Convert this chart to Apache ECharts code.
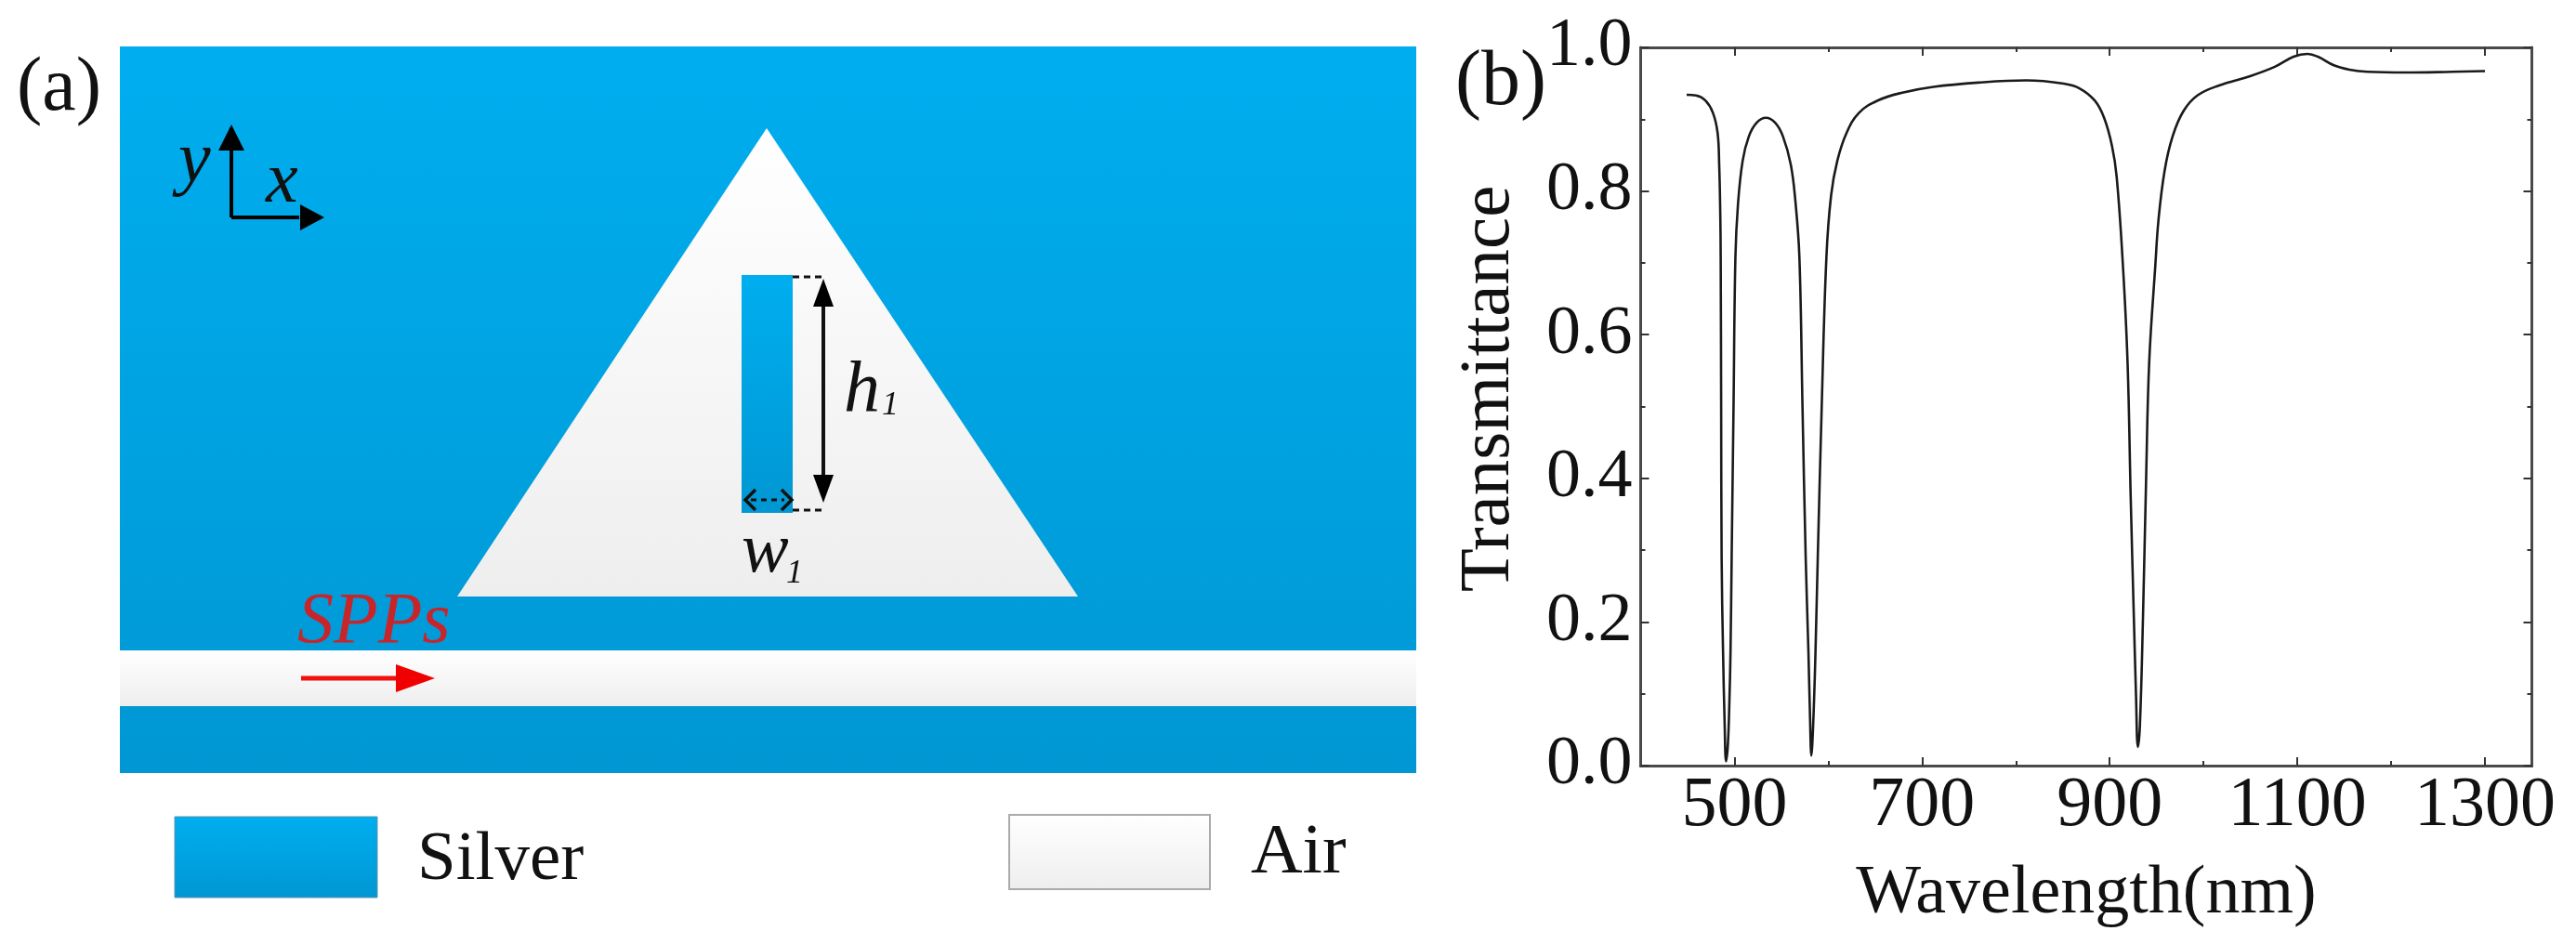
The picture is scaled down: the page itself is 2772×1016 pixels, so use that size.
<!DOCTYPE html>
<html><head><meta charset="utf-8">
<style>html,body{margin:0;padding:0;background:#fff}#c{width:2772px;height:1016px}</style>
<script src="https://cdn.jsdelivr.net/npm/echarts@6/dist/echarts.min.js"></script>
</head><body><div id="c"></div>
<script>
// Transmittance spectrum
const wavelength = [449,459,469,477,482,483.7,484.8,485.3,485.8,486.3,487.8,489.5,491,493,494.6,495.8,497,499,501,503.7,508.7,515.3,523.6,533.5,543.4,551.7,560,565,569.2,572.5,575.9,578.8,580.5,582,583,584.8,586.4,588.8,593,598,603,609.6,619.5,632.8,652.6,679,712,760,811,851,867.7,884,894,902.4,907.4,914,919,922.4,925.7,928,930,932.2,935.5,938.8,942.1,948.7,952,958.6,967,978.5,993.4,1016.6,1049.6,1076,1096,1111,1122,1139,1155.5,1175,1215,1265,1300];
const transmittance = [0.934,0.933,0.926,0.909,0.881,0.837,0.773,0.708,0.5,0.29,0.16,0.06,0.006,0.03,0.09,0.16,0.29,0.5,0.708,0.781,0.842,0.876,0.895,0.902,0.895,0.876,0.837,0.785,0.708,0.5,0.29,0.16,0.07,0.014,0.03,0.09,0.16,0.29,0.5,0.708,0.794,0.842,0.881,0.909,0.926,0.937,0.945,0.951,0.954,0.9495,0.943,0.926,0.902,0.863,0.82,0.698,0.562,0.372,0.208,0.1,0.026,0.056,0.208,0.399,0.562,0.698,0.76,0.829,0.876,0.911,0.933,0.947,0.96,0.973,0.987,0.991,0.987,0.975,0.969,0.966,0.965,0.966,0.967];
const xMajorTicks = [500,700,900,1100,1300];
const xMinorTicks = [600,800,1000,1200];
const xAxisTitle = 'Wavelength(nm)';
const yAxisTitle = 'Transmittance';
const legendNames = ['Silver','Air'];
const panelLabels = ['(a)','(b)'];

const SERIF = '"Liberation Serif","Times New Roman",serif';
const silver = {type:'linear',x:0,y:0,x2:0,y2:1,colorStops:[{offset:0,color:'#00aeef'},{offset:1,color:'#0097d3'}]};
const air = {type:'linear',x:0,y:0,x2:0,y2:1,colorStops:[{offset:0,color:'#ffffff'},{offset:1,color:'#eeeeee'}]};
const rect=(x,y,w,h,fill,extra)=>({type:'rect',shape:{x,y,width:w,height:h},style:Object.assign({fill},extra||{})});
const poly=(pts,fill)=>({type:'polygon',shape:{points:pts},style:{fill}});
const line=(x1,y1,x2,y2,stroke,w,dash)=>({type:'line',shape:{x1,y1,x2,y2},style:{stroke,lineWidth:w,lineDash:dash||null}});
// x,y = left end of the baseline
const text=(t,x,y,size,opt)=>({type:'text',x,y:y-0.29*size,z:10,style:Object.assign({text:t,font:`${(opt&&opt.italic)?'italic ':''}${size}px ${SERIF}`,fill:'#111',align:'left',verticalAlign:'middle'},opt&&opt.style||{})});

const schematic = [
  rect(129,50,1395,782,silver),
  rect(129,700,1395,60,air),
  {type:'polygon',shape:{points:[[825,138],[1160,642],[492,642]]},style:{fill:air}},
  rect(798,296,55,256,silver),
  // x / y axes
  line(249,234,249,160,'#000',4), line(249,234,322,234,'#000',4),
  poly([[249,134],[235,162],[263,162]],'#000'),
  poly([[349,234],[323,220],[323,248]],'#000'),
  // dimensions
  line(853,298,885,298,'#111',3,[7,5]), line(853,549,886,549,'#111',3,[7,5]),
  line(886,320,886,520,'#111',4),
  poly([[886,300],[875,330],[897,330]],'#000'),
  poly([[886,541],[875,511],[897,511]],'#000'),
  line(808,538,844,538,'#111',3,[6,5]),
  {type:'polyline',shape:{points:[[813,527],[802,538],[813,549]]},style:{stroke:'#111',lineWidth:3.5,fill:null}},
  {type:'polyline',shape:{points:[[841,527],[852,538],[841,549]]},style:{stroke:'#111',lineWidth:3.5,fill:null}},
  // SPPs arrow
  line(324,730,430,730,'#f01010',5),
  poly([[468,730],[426,715],[426,745]],'#f00000'),
  // legend boxes
  rect(188,879,218,87,silver,{stroke:'#5b93ad',lineWidth:1}),
  rect(1086,877,216,80,air,{stroke:'#aaaaaa',lineWidth:2}),
  // texts
  text(panelLabels[0],18,120,82),
  text(panelLabels[1],1566,114,84),
  text('y',192,197,78,{italic:true}),
  text('x',286,219,78,{italic:true}),
  text('h',908,445,78,{italic:true}),
  text('1',949,447,36,{italic:true}),
  text('w',798,617,76,{italic:true}),
  text('1',846,628,36,{italic:true}),
  text('SPPs',320,693,78,{italic:true,style:{fill:'#c8252b'}}),
  text(legendNames[0],449,948,75),
  text(legendNames[1],1346,941,77)
];

const AX = '#4a4a4a';
const baseX = {type:'value',min:400,max:1350,splitLine:{show:false},axisLabel:{show:false},axisTick:{show:false},axisLine:{show:false}};
const tickX = (position,vals,len,labels)=>Object.assign({},baseX,{
  position,
  axisLine:{show:true,onZero:false,lineStyle:{color:AX,width:3}},
  axisTick:{show:true,inside:true,length:len,customValues:vals,lineStyle:{color:'#333',width:2}},
  axisLabel:labels?{show:true,customValues:vals,color:'#111',fontFamily:SERIF,fontSize:76,margin:6,formatter:v=>String(v)}:{show:false}
});
const chart = echarts.init(document.getElementById('c'),null,{renderer:'canvas',width:2772,height:1016});
chart.setOption({
  animation:false,
  backgroundColor:'#ffffff',
  grid:{left:1765.5,right:47.5,top:51,bottom:192,containLabel:false},
  xAxis:[
    Object.assign(tickX('bottom',xMajorTicks,9,true),{name:xAxisTitle,nameLocation:'middle',nameGap:102,nameTextStyle:{fontFamily:SERIF,fontSize:74,color:'#111'}}),
    tickX('bottom',xMinorTicks,5,false),
    tickX('top',xMajorTicks,9,false),
    tickX('top',xMinorTicks,5,false)
  ],
  yAxis:[
    {type:'value',min:0,max:1,interval:0.2,position:'left',splitLine:{show:false},
     name:yAxisTitle,nameLocation:'middle',nameGap:124,nameRotate:90,nameTextStyle:{fontFamily:SERIF,fontSize:77,color:'#111',padding:[0,0,0,38]},
     axisLine:{show:true,onZero:false,lineStyle:{color:AX,width:3}},
     axisTick:{show:true,inside:true,length:9,lineStyle:{color:'#333',width:2}},
     minorTick:{show:true,splitNumber:2,length:5,lineStyle:{color:'#333',width:2}},
     axisLabel:{color:'#111',fontFamily:SERIF,fontSize:74,margin:9,formatter:v=>v.toFixed(1)}},
    {type:'value',min:0,max:1,interval:0.2,position:'right',splitLine:{show:false},
     axisLine:{show:true,onZero:false,lineStyle:{color:AX,width:3}},
     axisTick:{show:true,inside:true,length:9,lineStyle:{color:'#333',width:2}},
     minorTick:{show:true,splitNumber:2,length:5,lineStyle:{color:'#333',width:2}},
     axisLabel:{show:false}}
  ],
  series:[{type:'line',xAxisIndex:0,yAxisIndex:0,showSymbol:false,symbol:'none',smooth:0.4,
    data:wavelength.map((w,i)=>[w,transmittance[i]]),
    lineStyle:{color:'#1a1a1a',width:2.6}}],
  graphic:{elements:schematic}
});
</script></body></html>
